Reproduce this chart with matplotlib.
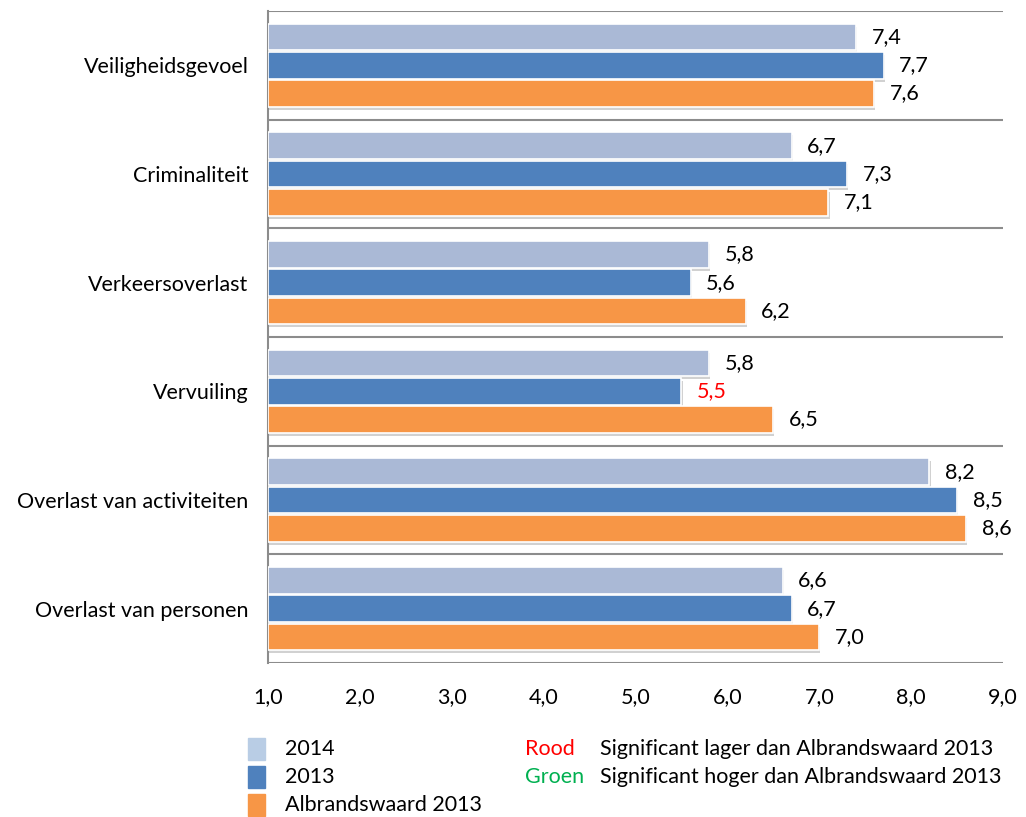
import numpy as np
import matplotlib.pyplot as plt
import matplotlib.patches as mpatches
import matplotlib.patheffects as pe

plt.rcParams['font.family'] = ['Lato', 'DejaVu Sans']

# data
categories = ['Veiligheidsgevoel', 'Criminaliteit', 'Verkeersoverlast',
              'Vervuiling', 'Overlast van activiteiten', 'Overlast van personen']
series_names = ['2014', '2013', 'Albrandswaard 2013']
vals_2014 = [7.4, 6.7, 5.8, 5.8, 8.2, 6.6]
vals_2013 = [7.7, 7.3, 5.6, 5.5, 8.5, 6.7]
vals_alb = [7.6, 7.1, 6.2, 6.5, 8.6, 7.0]
# label colours for significance (2013 Vervuiling is significantly lower)
label_col_2013 = ['black', 'black', 'black', 'red', 'black', 'black']
xticks = [1, 2, 3, 4, 5, 6, 7, 8, 9]

colors = ['#AAB9D6', '#4F81BD', '#F79646']
legend_colors = ['#B9CDE5', '#4F81BD', '#F79646']
fs = 15.5

fig = plt.figure(figsize=(10.26, 8.17), dpi=100)
ax = fig.add_axes([268 / 1026, 1 - 663 / 817, (1003 - 268) / 1026, (663 - 11) / 817])

n = len(categories)
ypos = np.arange(n)
bh = 0.245
shadow = [pe.SimplePatchShadow(offset=(0.8, -2.2), shadow_rgbFace='#9A9A9A', alpha=0.45), pe.Normal()]

all_series = [vals_2014, vals_2013, vals_alb]
for i, vals in enumerate(all_series):
    y = ypos + (i - 1) * (bh + 0.015)
    bars = ax.barh(y, np.array(vals) - 1, left=1, height=bh, color=colors[i],
                   edgecolor='white', linewidth=1.2, zorder=3)
    for b in bars:
        b.set_path_effects(shadow)
    for j, v in enumerate(vals):
        c = label_col_2013[j] if i == 1 else 'black'
        ax.text(v + 0.17, y[j], f'{v:.1f}'.replace('.', ','), va='center', ha='left',
                fontsize=fs, color=c, zorder=4)

ax.set_xlim(1, 9)
ax.set_ylim(n - 0.5, -0.5)
ax.set_yticks(ypos)
ax.set_yticklabels(categories, fontsize=fs)
ax.set_xticks(xticks)
ax.set_xticklabels([f'{t:.1f}'.replace('.', ',') for t in xticks], fontsize=fs)
ax.tick_params(axis='both', length=0)
ax.tick_params(axis='x', pad=17)
ax.tick_params(axis='y', pad=14)

for yy in np.arange(-0.5, n, 1.0):
    ax.axhline(yy, color='#8C8C8C', linewidth=1.5, zorder=2)

for s in ['top', 'right', 'bottom']:
    ax.spines[s].set_visible(False)
ax.spines['left'].set_color('#8C8C8C')
ax.spines['left'].set_linewidth(1.5)

# legend
rows_y = [749, 777, 805]
for k in range(3):
    yc = 1 - rows_y[k] / 817
    fig.patches.append(mpatches.Rectangle((248 / 1026, yc - 11 / 817), 17 / 1026, 22 / 817,
                                          transform=fig.transFigure, color=legend_colors[k]))
    fig.text(285 / 1026, yc, series_names[k], va='center', ha='left', fontsize=fs)

fig.text(525 / 1026, 1 - 749 / 817, 'Rood', color='#FF0000', va='center', ha='left', fontsize=fs)
fig.text(525 / 1026, 1 - 777 / 817, 'Groen', color='#00B050', va='center', ha='left', fontsize=fs)
fig.text(600 / 1026, 1 - 749 / 817, 'Significant lager dan Albrandswaard 2013', va='center', ha='left', fontsize=fs)
fig.text(600 / 1026, 1 - 777 / 817, 'Significant hoger dan Albrandswaard 2013', va='center', ha='left', fontsize=fs)

fig.savefig('out.png', dpi=100)
